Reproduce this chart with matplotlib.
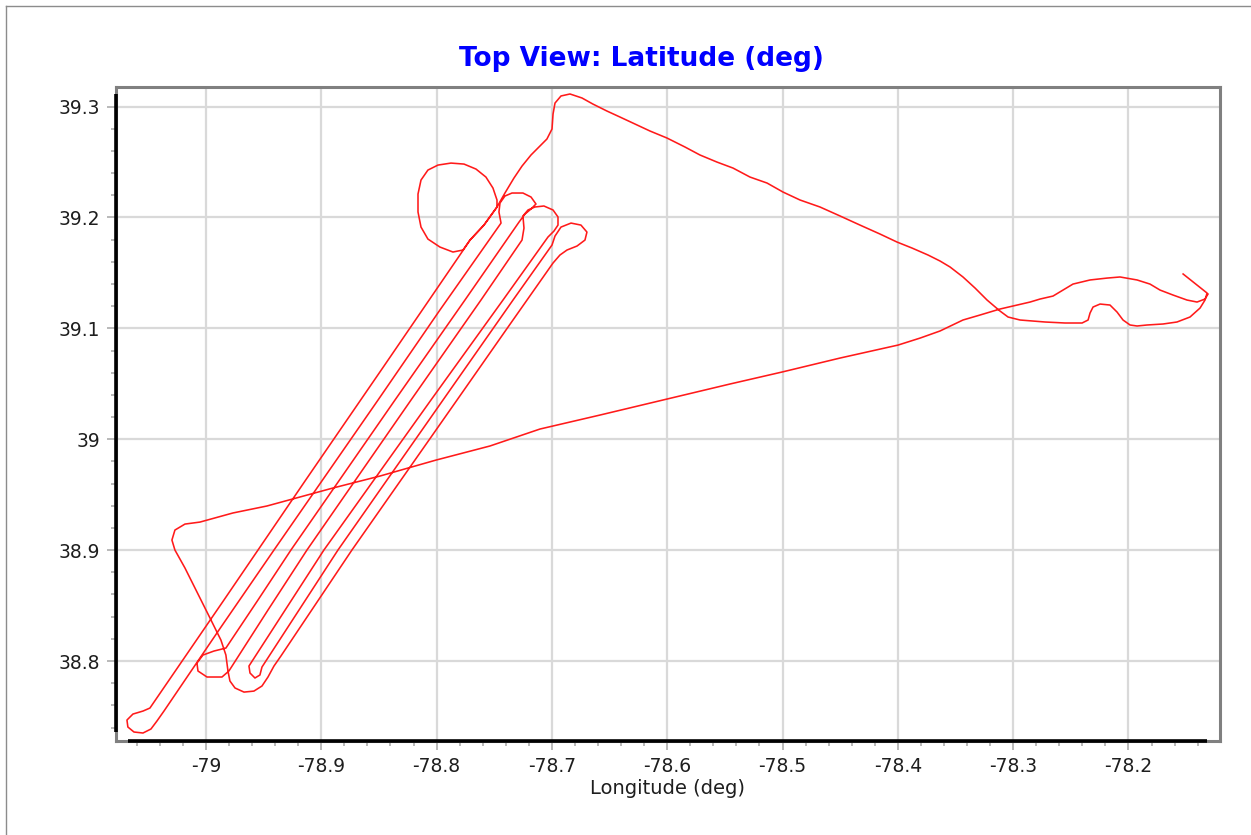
import numpy as np
import matplotlib.pyplot as plt
from matplotlib.ticker import MultipleLocator, FuncFormatter

# flight track, (longitude, latitude) in degrees
outbound = [
    (-78.1526, 39.1490), (-78.1405, 39.1390), (-78.1318, 39.1318), (-78.1336, 39.1255),
    (-78.1379, 39.1183), (-78.1466, 39.1102), (-78.1579, 39.1057), (-78.1700, 39.1039),
    (-78.1839, 39.1030), (-78.1925, 39.1021), (-78.1986, 39.1030), (-78.2047, 39.1075),
    (-78.2099, 39.1147), (-78.2160, 39.1210), (-78.2246, 39.1219), (-78.2307, 39.1192),
    (-78.2333, 39.1138), (-78.2350, 39.1075), (-78.2402, 39.1048), (-78.2550, 39.1048),
    (-78.2723, 39.1057), (-78.2940, 39.1075), (-78.3044, 39.1102), (-78.3114, 39.1156),
    (-78.3226, 39.1255), (-78.3330, 39.1363), (-78.3435, 39.1463), (-78.3547, 39.1553),
    (-78.3634, 39.1607), (-78.3738, 39.1661), (-78.3877, 39.1724), (-78.4007, 39.1778),
    (-78.4154, 39.1850), (-78.4328, 39.1931), (-78.4501, 39.2013), (-78.4675, 39.2094),
    (-78.4848, 39.2157), (-78.4996, 39.2229), (-78.5134, 39.2310), (-78.5282, 39.2364),
    (-78.5429, 39.2445), (-78.5568, 39.2499), (-78.5716, 39.2563), (-78.5846, 39.2635),
    (-78.6002, 39.2716), (-78.6149, 39.2779), (-78.6297, 39.2851), (-78.6409, 39.2905),
    (-78.6522, 39.2959), (-78.6644, 39.3022), (-78.6739, 39.3077), (-78.6843, 39.3113),
    (-78.6921, 39.3095), (-78.6973, 39.3031), (-78.6990, 39.2932), (-78.6999, 39.2797),
    (-78.7043, 39.2707), (-78.7112, 39.2635), (-78.7181, 39.2563), (-78.7259, 39.2463),
    (-78.7329, 39.2355), (-78.7407, 39.2220), (-78.7476, 39.2094), (-78.7589, 39.1931),
    (-78.7710, 39.1796), (-78.7771, 39.1706),
]

orbit = [
    (-78.7858, 39.1688), (-78.7971, 39.1733), (-78.8075, 39.1805), (-78.8135, 39.1913),
    (-78.8161, 39.2049), (-78.8161, 39.2211), (-78.8135, 39.2337), (-78.8075, 39.2427),
    (-78.7988, 39.2472), (-78.7875, 39.2490), (-78.7762, 39.2481), (-78.7658, 39.2436),
    (-78.7572, 39.2364), (-78.7511, 39.2265), (-78.7476, 39.2157), (-78.7476, 39.2094),
    (-78.7589, 39.1931), (-78.7710, 39.1796),
]

# seven survey lanes with their end turns
lanes = [
    # lane 1 down, hook, lane 2 up
    (-78.7780, 39.1688), (-78.8456, 39.0660), (-78.9141, 38.9623), (-78.9844, 38.8550),
    (-79.0486, 38.7576),
    (-79.0546, 38.7549), (-79.0633, 38.7522), (-79.0685, 38.7468), (-79.0677, 38.7405),
    (-79.0624, 38.7360), (-79.0546, 38.7351), (-79.0477, 38.7387), (-79.0425, 38.7459),
    (-79.0364, 38.7549),
    (-78.9887, 38.8280), (-78.9410, 38.9001), (-78.8508, 39.0353), (-78.7971, 39.1165),
    (-78.7441, 39.1949),
    # turn 1, lane 3 down
    (-78.7459, 39.2049), (-78.7450, 39.2130), (-78.7407, 39.2193), (-78.7346, 39.2220),
    (-78.7251, 39.2220), (-78.7181, 39.2184), (-78.7138, 39.2121), (-78.7181, 39.2076),
    (-78.7233, 39.2031), (-78.7285, 39.1958),
    (-78.7754, 39.1255), (-78.8361, 39.0353), (-78.9263, 38.9001), (-78.9549, 38.8550),
    (-78.9827, 38.8117),
    # bottom loop, lane 4 up
    (-78.9931, 38.8090), (-79.0026, 38.8054), (-79.0078, 38.7982), (-79.0069, 38.7910),
    (-78.9991, 38.7856), (-78.9861, 38.7856), (-78.9801, 38.7910),
    (-78.9462, 38.8460), (-78.9124, 38.9001), (-78.8222, 39.0353), (-78.7615, 39.1255),
    (-78.7259, 39.1796),
    # turn 2, lane 5 down
    (-78.7242, 39.1904), (-78.7251, 39.2013), (-78.7207, 39.2067), (-78.7147, 39.2094),
    (-78.7069, 39.2103), (-78.6990, 39.2067), (-78.6947, 39.2004), (-78.6947, 39.1931),
    (-78.6982, 39.1877), (-78.7034, 39.1823),
    (-78.7424, 39.1255), (-78.8049, 39.0353), (-78.8977, 38.9001), (-78.9627, 38.7955),
    # short turn, lane 6 up
    (-78.9618, 38.7892), (-78.9575, 38.7847), (-78.9532, 38.7874), (-78.9514, 38.7946),
    (-78.8855, 38.9001), (-78.7945, 39.0353), (-78.7337, 39.1255), (-78.6999, 39.1751),
    # turn 3, lane 7 down
    (-78.6973, 39.1832), (-78.6921, 39.1913), (-78.6834, 39.1949), (-78.6748, 39.1931),
    (-78.6696, 39.1868), (-78.6713, 39.1796), (-78.6782, 39.1742), (-78.6869, 39.1706),
    (-78.6930, 39.1661), (-78.6990, 39.1589),
    (-78.7398, 39.0985), (-78.7823, 39.0353), (-78.8734, 38.9001), (-78.9350, 38.8045),
    # last bottom loop
    (-78.9410, 38.7955), (-78.9462, 38.7856), (-78.9514, 38.7775), (-78.9584, 38.7729),
    (-78.9670, 38.7720), (-78.9748, 38.7757), (-78.9792, 38.7820), (-78.9809, 38.7910),
]

return_leg = [
    (-78.9827, 38.8054), (-78.9870, 38.8189), (-78.9965, 38.8388), (-79.0078, 38.8622),
    (-79.0182, 38.8839), (-79.0269, 38.9001), (-79.0295, 38.9091), (-79.0269, 38.9181),
    (-79.0182, 38.9235), (-79.0052, 38.9253), (-78.9766, 38.9335), (-78.9471, 38.9398),
    (-78.9185, 38.9479), (-78.8899, 38.9560), (-78.8491, 38.9668), (-78.8005, 38.9812),
    (-78.7537, 38.9939), (-78.7103, 39.0092), (-78.6583, 39.0218), (-78.6002, 39.0362),
    (-78.5455, 39.0498), (-78.5004, 39.0606), (-78.4501, 39.0732), (-78.3998, 39.0849),
    (-78.3807, 39.0912), (-78.3634, 39.0976), (-78.3435, 39.1075), (-78.3287, 39.1120),
    (-78.3114, 39.1174), (-78.3001, 39.1201), (-78.2853, 39.1237), (-78.2767, 39.1264),
    (-78.2654, 39.1291), (-78.2567, 39.1345), (-78.2481, 39.1399), (-78.2333, 39.1436),
    (-78.2186, 39.1453), (-78.2073, 39.1463), (-78.1925, 39.1436), (-78.1813, 39.1399),
    (-78.1726, 39.1345), (-78.1613, 39.1300), (-78.1492, 39.1255), (-78.1405, 39.1237),
    (-78.1336, 39.1264), (-78.1310, 39.1309),
]

x_limits = (-79.078, -78.1206)
y_limits = (38.7279, 39.3176)


def tick_label(value, pos):
    return f"{round(value, 2):g}"


def plot_track(ax, track):
    ax.plot(track[:, 0], track[:, 1], color="#ff1a1a", linewidth=1.15, zorder=3)


def style_axes(ax):
    ax.set_xlim(*x_limits)
    ax.set_ylim(*y_limits)
    ax.xaxis.set_major_locator(MultipleLocator(0.1))
    ax.xaxis.set_minor_locator(MultipleLocator(0.02))
    ax.yaxis.set_major_locator(MultipleLocator(0.1))
    ax.yaxis.set_minor_locator(MultipleLocator(0.02))
    ax.xaxis.set_major_formatter(FuncFormatter(tick_label))
    ax.yaxis.set_major_formatter(FuncFormatter(tick_label))

    ax.grid(True, which="major", color="#d9d9d9", linewidth=1.6, zorder=0)
    ax.set_axisbelow(True)

    ax.tick_params(which="major", direction="out", length=6.5, width=1.1,
                   color="#a6a6a6", labelsize=13.5, labelcolor="#1e1e1e", pad=5)
    ax.tick_params(which="minor", direction="out", length=3.6, width=1.1,
                   color="#a6a6a6")

    for side in ["top", "right", "left", "bottom"]:
        ax.spines[side].set_color("#808080")
        ax.spines[side].set_linewidth(2.2)

    # dark axis lines drawn just inside the frame, as in the original control
    ax.plot([0, 0], [0.014, 0.989], transform=ax.transAxes, color="black",
            linewidth=2.6, clip_on=False, zorder=5, solid_capstyle="butt")
    ax.plot([0.011, 0.988], [0, 0], transform=ax.transAxes, color="black",
            linewidth=2.6, clip_on=False, zorder=5, solid_capstyle="butt")

    ax.set_xlabel("Longitude (deg)", fontsize=14, color="#1e1e1e", labelpad=2)


def main():
    track = np.array(outbound + orbit + lanes + return_leg)

    fig = plt.figure(figsize=(12.51, 8.35), dpi=100)
    fig.patch.set_facecolor("white")

    # outer border of the panel (left and top edges are visible)
    fig.add_artist(plt.Line2D([6 / 1251, 6 / 1251], [0, 1 - 6 / 835],
                              color="#8c8c8c", linewidth=1.0))
    fig.add_artist(plt.Line2D([6 / 1251, 1], [1 - 6 / 835, 1 - 6 / 835],
                              color="#8c8c8c", linewidth=1.0))

    ax = fig.add_axes([116 / 1251, 94 / 835, 1104 / 1251, 654 / 835])
    plot_track(ax, track)
    style_axes(ax)

    fig.text(641 / 1251, 1 - 59 / 835, "Top View: Latitude (deg)", ha="center",
             va="center", fontsize=19, fontweight="bold", color="#0000ff")

    fig.savefig("out.png", dpi=100)


if __name__ == "__main__":
    main()
